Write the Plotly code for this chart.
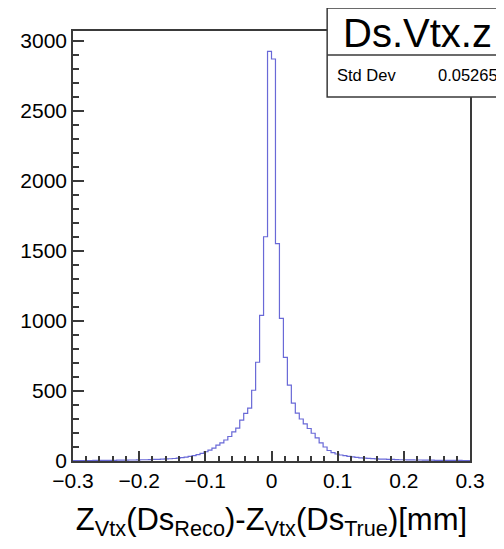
import numpy as np
import plotly.graph_objects as go

# ---- data ----
bin_lo = -0.3
bin_hi = 0.3
n_bins = 100
counts = [2, 3, 3, 3, 3, 4, 4, 4, 5, 5, 5, 6, 6, 6, 7, 7, 8, 9, 9, 10,
          11, 12, 13, 15, 16, 18, 21, 24, 28, 33, 38, 45, 55, 66, 78, 92, 114, 130, 150, 175,
          208, 235, 292, 340, 377, 505, 705, 1039, 1601, 2925,
          2870, 1552, 1018, 740, 541, 413, 342, 300, 265, 232,
          198, 165, 130, 100, 75, 60, 50, 43, 38, 33,
          29, 26, 23, 21, 19, 17, 15, 14, 13, 12,
          11, 10, 9, 9, 8, 8, 7, 7, 6, 6,
          6, 5, 5, 5, 4, 4, 4, 4, 3, 3]
x_ticks = [-0.3, -0.2, -0.1, 0, 0.1, 0.2, 0.3]
x_ticktext = ["\u22120.3", "\u22120.2", "\u22120.1", "0", "0.1", "0.2", "0.3"]
y_ticks = [0, 500, 1000, 1500, 2000, 2500, 3000]
hist_name = "Ds.Vtx.z"
std_dev = "0.05265"

edges = np.linspace(bin_lo, bin_hi, n_bins + 1)
xs = list(edges)
ys = counts + [counts[-1]]

FONT = "Liberation Sans, Arial, Helvetica, sans-serif"
AX = "#3a3a3a"

# page body has an 8px margin; plot area lands at x 67..470, y 31..461 on the page
fig = go.Figure()
fig.add_trace(go.Scatter(x=xs, y=ys, mode="lines", line_shape="hv",
                         line=dict(color="rgb(105,105,215)", width=1.2),
                         showlegend=False, hoverinfo="skip"))

fig.update_layout(
    width=496, height=541,
    margin=dict(l=59, r=34, t=23, b=88),
    paper_bgcolor="white", plot_bgcolor="white",
    font=dict(family=FONT, color="black"),
    showlegend=False,
)
fig.update_xaxes(
    range=[bin_lo, bin_hi], showgrid=False, zeroline=False,
    showline=True, linecolor=AX, linewidth=1.5, mirror=True,
    ticks="inside", ticklen=10, tickwidth=1.5, tickcolor=AX,
    tickvals=x_ticks, ticktext=x_ticktext,
    tickfont=dict(size=21, family=FONT, color="black"),
    minor=dict(ticks="inside", ticklen=5, tickwidth=1.5, tickcolor=AX, dtick=0.02, tick0=0, showgrid=False),
    title=dict(text="Z<sub>Vtx</sub>(Ds<sub>Reco</sub>)-Z<sub>Vtx</sub>(Ds<sub>True</sub>)[mm]",
               font=dict(size=31, family=FONT, color="black"), standoff=17),
)
fig.update_yaxes(
    range=[0, 3070], showgrid=False, zeroline=False,
    showline=True, linecolor=AX, linewidth=1.5, mirror=True,
    ticks="inside", ticklen=11, tickwidth=1.5, tickcolor=AX,
    tickvals=y_ticks, ticktext=[str(v) for v in y_ticks],
    tickfont=dict(size=21, family=FONT, color="black"),
    minor=dict(ticks="inside", ticklen=6, tickwidth=1.5, tickcolor=AX, dtick=100, tick0=0, showgrid=False),
)

# stats box (pixel positions on page converted to paper fractions of the plot area)
def px(x):
    return (x - 67) / 403

def py(y):
    return (461 - y) / 430

fig.add_shape(type="rect", xref="paper", yref="paper", x0=px(325), x1=px(530), y0=py(97), y1=py(8),
              line=dict(color=AX, width=1.5), fillcolor="white", layer="above")
fig.add_shape(type="line", xref="paper", yref="paper", x0=px(325), x1=px(530), y0=py(55), y1=py(55),
              line=dict(color=AX, width=1.5), layer="above")
fig.add_annotation(xref="paper", yref="paper", x=px(417), y=py(33),
                   text=hist_name, showarrow=False, xanchor="center", yanchor="middle",
                   font=dict(size=40, family=FONT, color="black"))
fig.add_annotation(xref="paper", yref="paper", x=px(333), y=py(75),
                   text="Std Dev", showarrow=False, xanchor="left", yanchor="middle",
                   font=dict(size=16.5, family=FONT, color="black"))
fig.add_annotation(xref="paper", yref="paper", x=px(500), y=py(75),
                   text=std_dev, showarrow=False, xanchor="right", yanchor="middle",
                   font=dict(size=16.5, family=FONT, color="black"))

fig.write_html("out.html")
